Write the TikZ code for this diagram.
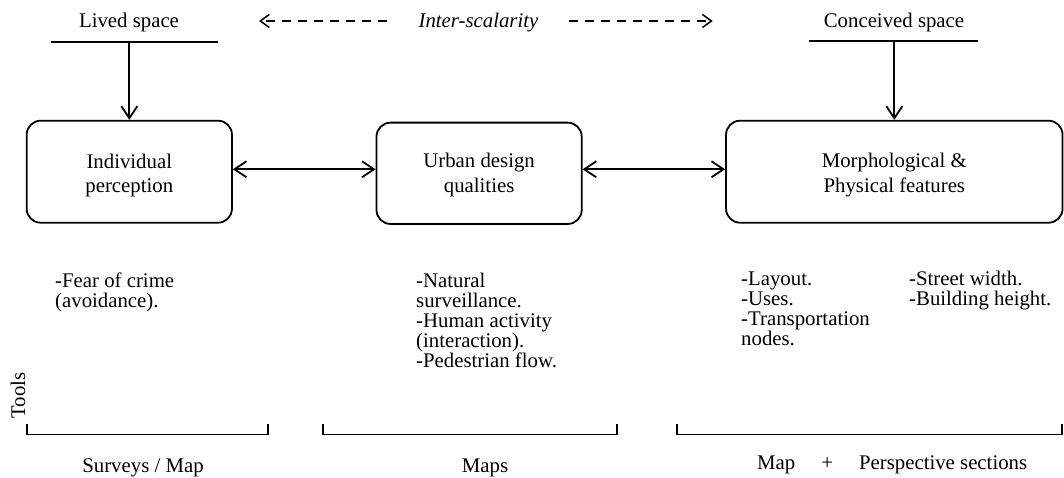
\documentclass[tikz,border=0pt]{standalone}
\usepackage{fontspec}
\setmainfont{Liberation Serif}
\usetikzlibrary{arrows.meta}
\begin{document}
\begin{tikzpicture}[x=1pt,y=-1pt,
  txt/.style={inner sep=0pt, font=\fontsize{20.8}{24.4}\selectfont},
  boxtxt/.style={txt, align=center, anchor=base},
  listtxt/.style={inner sep=0pt, font=\fontsize{20.8}{20}\selectfont, align=left, anchor=base west},
  box/.style={draw, line width=1.8pt, rounded corners=14pt, inner sep=0pt},
  conn/.style={line width=1.8pt, -{Straight Barb[length=12pt,width=16pt]}},
  dconn/.style={line width=1.8pt, {Straight Barb[length=12pt,width=16pt]}-{Straight Barb[length=12pt,width=16pt]}},
  dashconn/.style={line width=1.5pt, dash pattern=on 9pt off 7pt, -{Straight Barb[length=9pt,width=13pt]}},
  rulel/.style={line width=1.6pt},
  bracket/.style={line width=1.8pt}]
\useasboundingbox (0,0) rectangle (1064,478);

% boxes
\node[box, minimum width=205.3pt, minimum height=102pt] (b1) at (129.3,171.7) {};
\node[box, minimum width=205.2pt, minimum height=101.3pt] (b2) at (479.1,173.3) {};
\node[box, minimum width=336.5pt, minimum height=102pt] (b3) at (894.3,171.7) {};
\node[boxtxt] (t1) at (129.3,192.7) {Individual\\perception};
\node[boxtxt] (t2) at (479.1,192.3) {Urban design\\qualities};
\node[boxtxt] (t3) at (894.3,192.3) {Morphological \&\\Physical features};

\draw[dconn] ([yshift=2.4pt]b1.east) -- ([yshift=2.4pt]b1.east -| b2.west);
\draw[dconn] ([yshift=4pt]b2.east) -- ([yshift=4pt]b2.east -| b3.west);

% top
\node[txt, anchor=base] (lived) at (129,28) {Lived space};
\coordinate (lvL) at (51,42);
\coordinate (lvR) at (218,42);
\coordinate (lvM) at (129.3,42);
\draw[rulel] (lvL) -- (lvR);
\draw[conn] (lvM) -- (b1.north);

\node[txt, anchor=base] (conc) at (894,28) {Conceived space};
\coordinate (cvL) at (809,41);
\coordinate (cvR) at (978,41);
\coordinate (cvM) at (894.3,41);
\draw[rulel] (cvL) -- (cvR);
\draw[conn] (cvM) -- (b3.north);

\node[txt, anchor=base, font=\fontsize{20.8}{24.4}\selectfont\itshape] (inter) at (478.5,28) {Inter-scalarity};
\coordinate (dlS) at (387,21);
\coordinate (dlE) at (259,21);
\coordinate (drS) at (569,21);
\coordinate (drE) at (712.7,21);
\draw[dashconn] (dlS) -- (dlE);
\draw[dashconn] (drS) -- (drE);

% lists (base anchor = baseline of last line)
\node[listtxt] (l1) at (55,307) {-Fear of crime\\(avoidance).};
\node[listtxt] (l2) at (416,367) {-Natural\\surveillance.\\-Human activity\\(interaction).\\-Pedestrian flow.};
\node[listtxt] (l3) at (741,345) {-Layout.\\-Uses.\\-Transportation\\nodes.};
\node[listtxt] (l4) at (909,305) {-Street width.\\-Building height.};

% tools
\node[txt, rotate=90, anchor=base] (tools) at (25,395.5) {Tools};
\draw[bracket] (26.7,424) -- (26.7,434.5) -- (267.7,434.5) -- (267.7,424);
\draw[bracket] (322.7,424) -- (322.7,434.5) -- (617.3,434.5) -- (617.3,424);
\draw[bracket] (677,424) -- (677,434.5) -- (1061.7,434.5) -- (1061.7,424);
\node[txt, anchor=base] (tl1) at (143,472) {Surveys / Map};
\node[txt, anchor=base] (tl2) at (485,472) {Maps};
\node[txt, anchor=base west] (tl3) at (757,469.5) {Map\hspace{26pt}+\hspace{26pt}Perspective sections};
\end{tikzpicture}
\end{document}
